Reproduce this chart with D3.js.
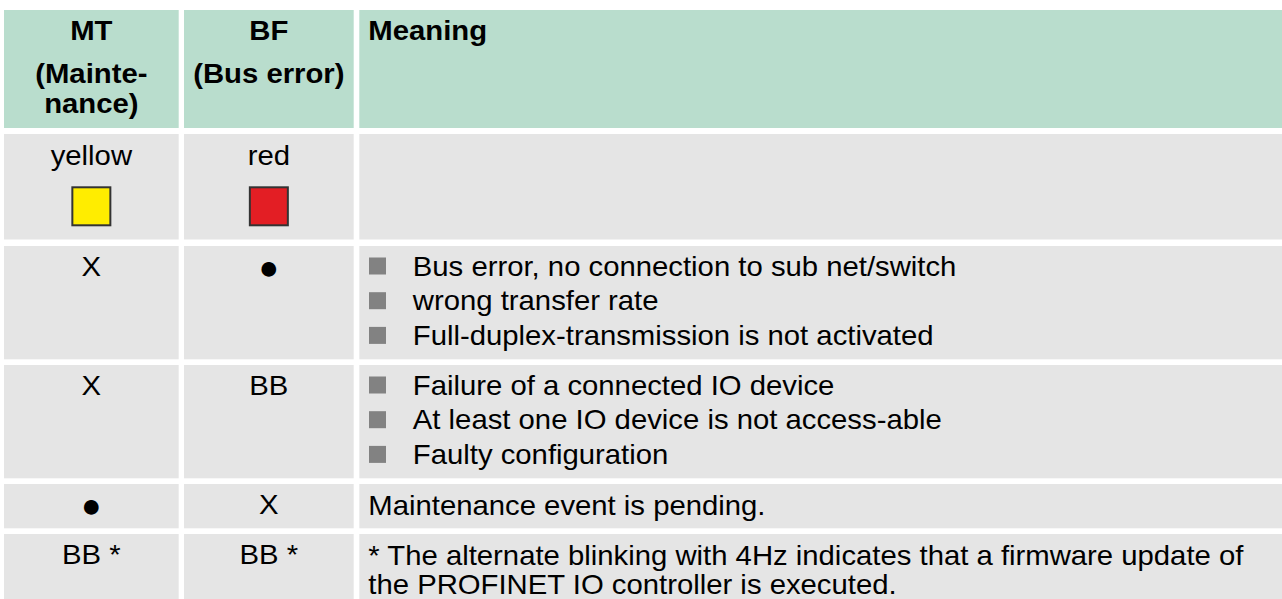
<!DOCTYPE html>
<html>
<head>
<meta charset="utf-8">
<script src="https://cdn.jsdelivr.net/npm/d3@7"></script>
<style>
  html, body { margin: 0; padding: 0; background: #ffffff; }
  svg { display: block; }
  text { font-family: "Liberation Sans", Arial, Helvetica, sans-serif; fill: #000; }
</style>
</head>
<body>
<svg id="chart" width="1282" height="599"></svg>
<script>
// ---- data ----
const headerTitles = ["MT", "BF", "Meaning"];
const headerSubtitles = [["(Mainte-", "nance)"], ["(Bus error)"], []];
const ledNames = ["yellow", "red"];
const ledColors = ["#ffed00", "#e31e24"];
const mtStates = ["X", "X", "●", "BB *"];
const bfStates = ["●", "BB", "X", "BB *"];
const meaningBullets = [
  ["Bus error, no connection to sub net/switch", "wrong transfer rate", "Full-duplex-transmission is not activated"],
  ["Failure of a connected IO device", "At least one IO device is not access-able", "Faulty configuration"],
  [],
  []
];
const meaningTexts = [
  [],
  [],
  ["Maintenance event is pending."],
  ["* The alternate blinking with 4Hz indicates that a firmware update of", "the PROFINET IO controller is executed."]
];

// ---- layout (styles) ----
const colStarts = [4, 184, 359.3];
const colEnds = [178.7, 353.7, 1282];
const rowStarts = [10, 134, 246, 365, 484, 534];
const rowEnds = [128, 239.5, 359.3, 478.3, 528.3, 620];
const headerFill = "#b9ddcd";
const cellFill = "#e5e5e5";
const bulletFill = "#828282";
const fs = 27;
const sx = 1.085;
const bulletStep = 34.7;
const plainStep = 28.5;

const svg = d3.select("#chart");

const colX = d3.scaleOrdinal().domain(d3.range(3)).range(colStarts);
const colW = i => colEnds[i] - colStarts[i];
const colC = i => (colStarts[i] + colEnds[i]) / 2;
const rowY = d3.scaleOrdinal().domain(d3.range(6)).range(rowStarts);
const rowH = i => rowEnds[i] - rowStarts[i];

// cells
const cells = [];
d3.range(6).forEach(r => d3.range(3).forEach(c => cells.push({ r, c })));
svg.append("g").selectAll("rect").data(cells).join("rect")
  .attr("x", d => colX(d.c)).attr("y", d => rowY(d.r))
  .attr("width", d => colW(d.c)).attr("height", d => rowH(d.r))
  .attr("fill", d => d.r === 0 ? headerFill : cellFill);

function addText(g, str, x, y, anchor, weight) {
  const isDot = str === "●";
  g.append("text")
    .attr("transform", `translate(${x},${y + (isDot ? 2.5 : 0)}) scale(${isDot ? 1 : sx},1)`)
    .attr("text-anchor", anchor)
    .attr("font-size", isDot ? 34 : fs)
    .attr("font-weight", weight || "normal")
    .text(str);
}

// header
const hg = svg.append("g");
headerTitles.forEach((t, i) => {
  const x = i < 2 ? colC(i) : colX(i) + 9;
  const anchor = i < 2 ? "middle" : "start";
  addText(hg, t, x, rowY(0) + 30, anchor, "bold");
  headerSubtitles[i].forEach((s, j) => addText(hg, s, x, rowY(0) + 73 + j * 30, anchor, "bold"));
});

// LED row
const lg = svg.append("g");
ledNames.forEach((n, i) => {
  addText(lg, n, colC(i), rowY(1) + 31, "middle");
});
lg.selectAll("rect").data(ledColors).join("rect")
  .attr("x", (d, i) => colC(i) - 19)
  .attr("y", rowY(1) + 53.3)
  .attr("width", 38).attr("height", 38)
  .attr("fill", d => d)
  .attr("stroke", "#333333").attr("stroke-width", 2);

// state rows
const sg = svg.append("g");
mtStates.forEach((s, k) => addText(sg, s, colC(0), rowY(k + 2) + 30, "middle"));
bfStates.forEach((s, k) => addText(sg, s, colC(1), rowY(k + 2) + 30, "middle"));

// meanings
const mg = svg.append("g");
meaningBullets.forEach((lines, k) => {
  lines.forEach((line, j) => {
    const base = rowY(k + 2) + 29.5 + j * bulletStep;
    mg.append("rect")
      .attr("x", colX(2) + 9.7).attr("y", base - 18)
      .attr("width", 17).attr("height", 17)
      .attr("fill", bulletFill);
    addText(mg, line, colX(2) + 53.5, base, "start");
  });
});
meaningTexts.forEach((lines, k) => {
  lines.forEach((line, j) => {
    addText(mg, line, colX(2) + 9, rowY(k + 2) + 31 + j * plainStep, "start");
  });
});
</script>
</body>
</html>
